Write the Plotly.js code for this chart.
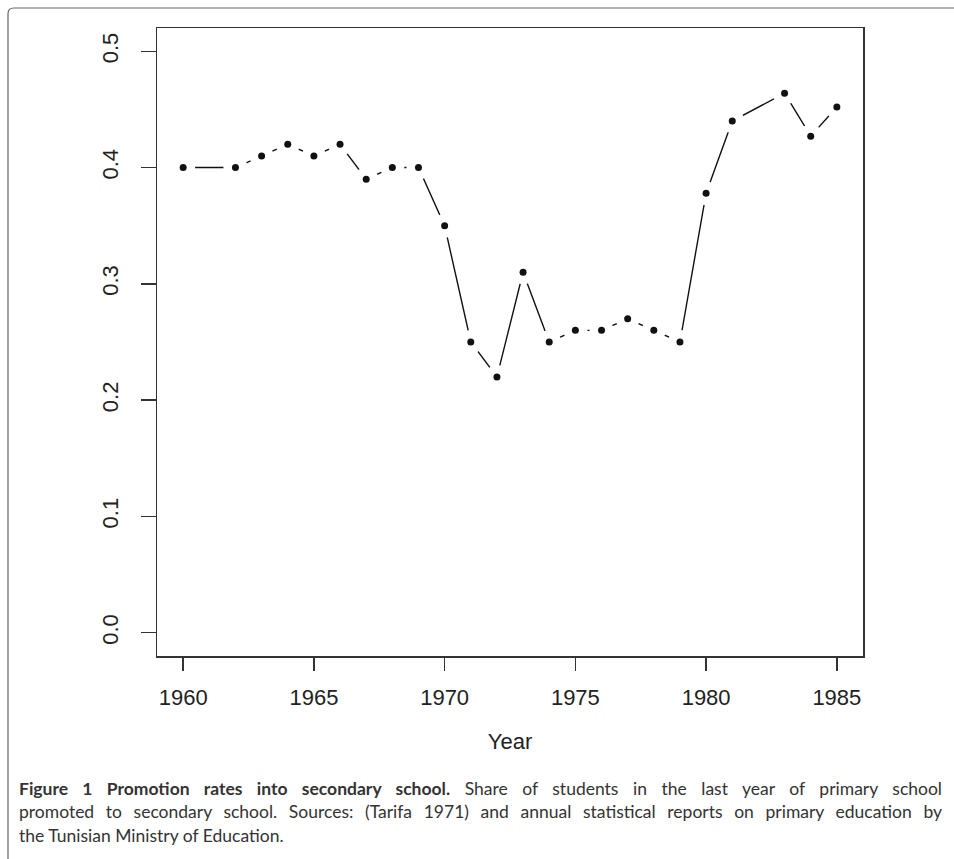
<!DOCTYPE html>
<html>
<head>
<meta charset="utf-8">
<script src="https://cdn.plot.ly/plotly-3.0.1.min.js"></script>
<style>html,body{margin:0;padding:0;background:#fff;}#chart{width:954px;height:859px;}</style>
</head>
<body>
<div id="chart"></div>
<script>
// Data
const years = [1960, 1962, 1963, 1964, 1965, 1966, 1967, 1968, 1969, 1970, 1971, 1972, 1973, 1974, 1975, 1976, 1977, 1978, 1979, 1980, 1981, 1983, 1984, 1985];
const rates = [0.40, 0.40, 0.41, 0.42, 0.41, 0.42, 0.39, 0.40, 0.40, 0.35, 0.25, 0.22, 0.31, 0.25, 0.26, 0.26, 0.27, 0.26, 0.25, 0.378, 0.44, 0.464, 0.427, 0.452];
const xTicks = [1960, 1965, 1970, 1975, 1980, 1985];
const yTicks = [0.0, 0.1, 0.2, 0.3, 0.4, 0.5];
const yTickLabels = ["0.0", "0.1", "0.2", "0.3", "0.4", "0.5"];
const xLabel = "Year";
const captionLines = [
  "<b>Figure 1 Promotion rates into secondary school.</b> Share of students in the last year of primary school",
  "promoted to secondary school. Sources: (Tarifa 1971) and annual statistical reports on primary education by",
  "the Tunisian Ministry of Education."
];

const W = 954, H = 859, ml = 157, mr = 91, mt = 28, mb = 203;
const pw = W - ml - mr, ph = H - mt - mb;
const px2x = p => (p - ml) / pw;
const py2y = p => 1 - (p - mt) / ph;
const capLeft = 17, capRight = 940;

const tickFont = {family: "Liberation Sans, Arial, sans-serif", size: 22, color: "#222"};

const traces = [
  {x: years, y: rates, mode: "lines", line: {color: "#111", width: 1.4}, hoverinfo: "skip", showlegend: false},
  {x: years, y: rates, mode: "markers", marker: {color: "#fff", size: 24, line: {width: 0}}, hoverinfo: "skip", showlegend: false},
  {x: years, y: rates, mode: "markers", marker: {color: "#111", size: 7, line: {width: 0}}, showlegend: false}
];

const annotations = captionLines.map((t, i) => ({
  text: t, xref: "paper", yref: "paper", x: px2x(capLeft), y: py2y(788 + i * 23.5),
  xanchor: "left", yanchor: "middle", showarrow: false, align: "left",
  font: {family: "Lato, Open Sans, sans-serif", size: 17.5, color: "#333"}
}));

const shapes = [{
  type: "path", xref: "paper", yref: "paper",
  path: `M ${px2x(8)},${py2y(859)} L ${px2x(8)},${py2y(14)} Q ${px2x(8)},${py2y(8)} ${px2x(14)},${py2y(8)} L ${px2x(954)},${py2y(8)}`,
  line: {color: "#666", width: 1.2}
}];

const layout = {
  width: W, height: H,
  margin: {l: ml, r: mr, t: mt, b: mb, pad: 0},
  paper_bgcolor: "#fff", plot_bgcolor: "#fff",
  showlegend: false,
  xaxis: {
    range: [1959, 1986], tickvals: xTicks, ticktext: xTicks.map(String),
    ticks: "outside", ticklen: 13, tickwidth: 1.5, tickcolor: "#333",
    showline: true, linecolor: "#333", linewidth: 1.5, mirror: true,
    showgrid: false, zeroline: false, tickfont: tickFont, ticklabelstandoff: 8,
    title: {text: xLabel, font: tickFont, standoff: 24}
  },
  yaxis: {
    range: [-0.02, 0.52], tickvals: yTicks, ticktext: yTickLabels, tickangle: -90,
    ticks: "outside", ticklen: 15, tickwidth: 1.5, tickcolor: "#333",
    showline: true, linecolor: "#333", linewidth: 1.5, mirror: true,
    showgrid: false, zeroline: false, tickfont: tickFont, ticklabelstandoff: 14
  },
  annotations: annotations,
  shapes: shapes
};

Plotly.newPlot("chart", traces, layout, {displayModeBar: false, staticPlot: true}).then(gd => {
  // justify the first two caption lines (as in the journal layout)
  const els = gd.querySelectorAll(".annotation-text");
  [0, 1].forEach(i => {
    const el = els[i];
    if (!el) return;
    const len = el.getComputedTextLength();
    const spaces = (el.textContent.match(/ /g) || []).length;
    const extra = (capRight - capLeft - len) / spaces;
    if (extra > 0) el.style.wordSpacing = extra + "px";
  });
});
</script>
</body>
</html>
